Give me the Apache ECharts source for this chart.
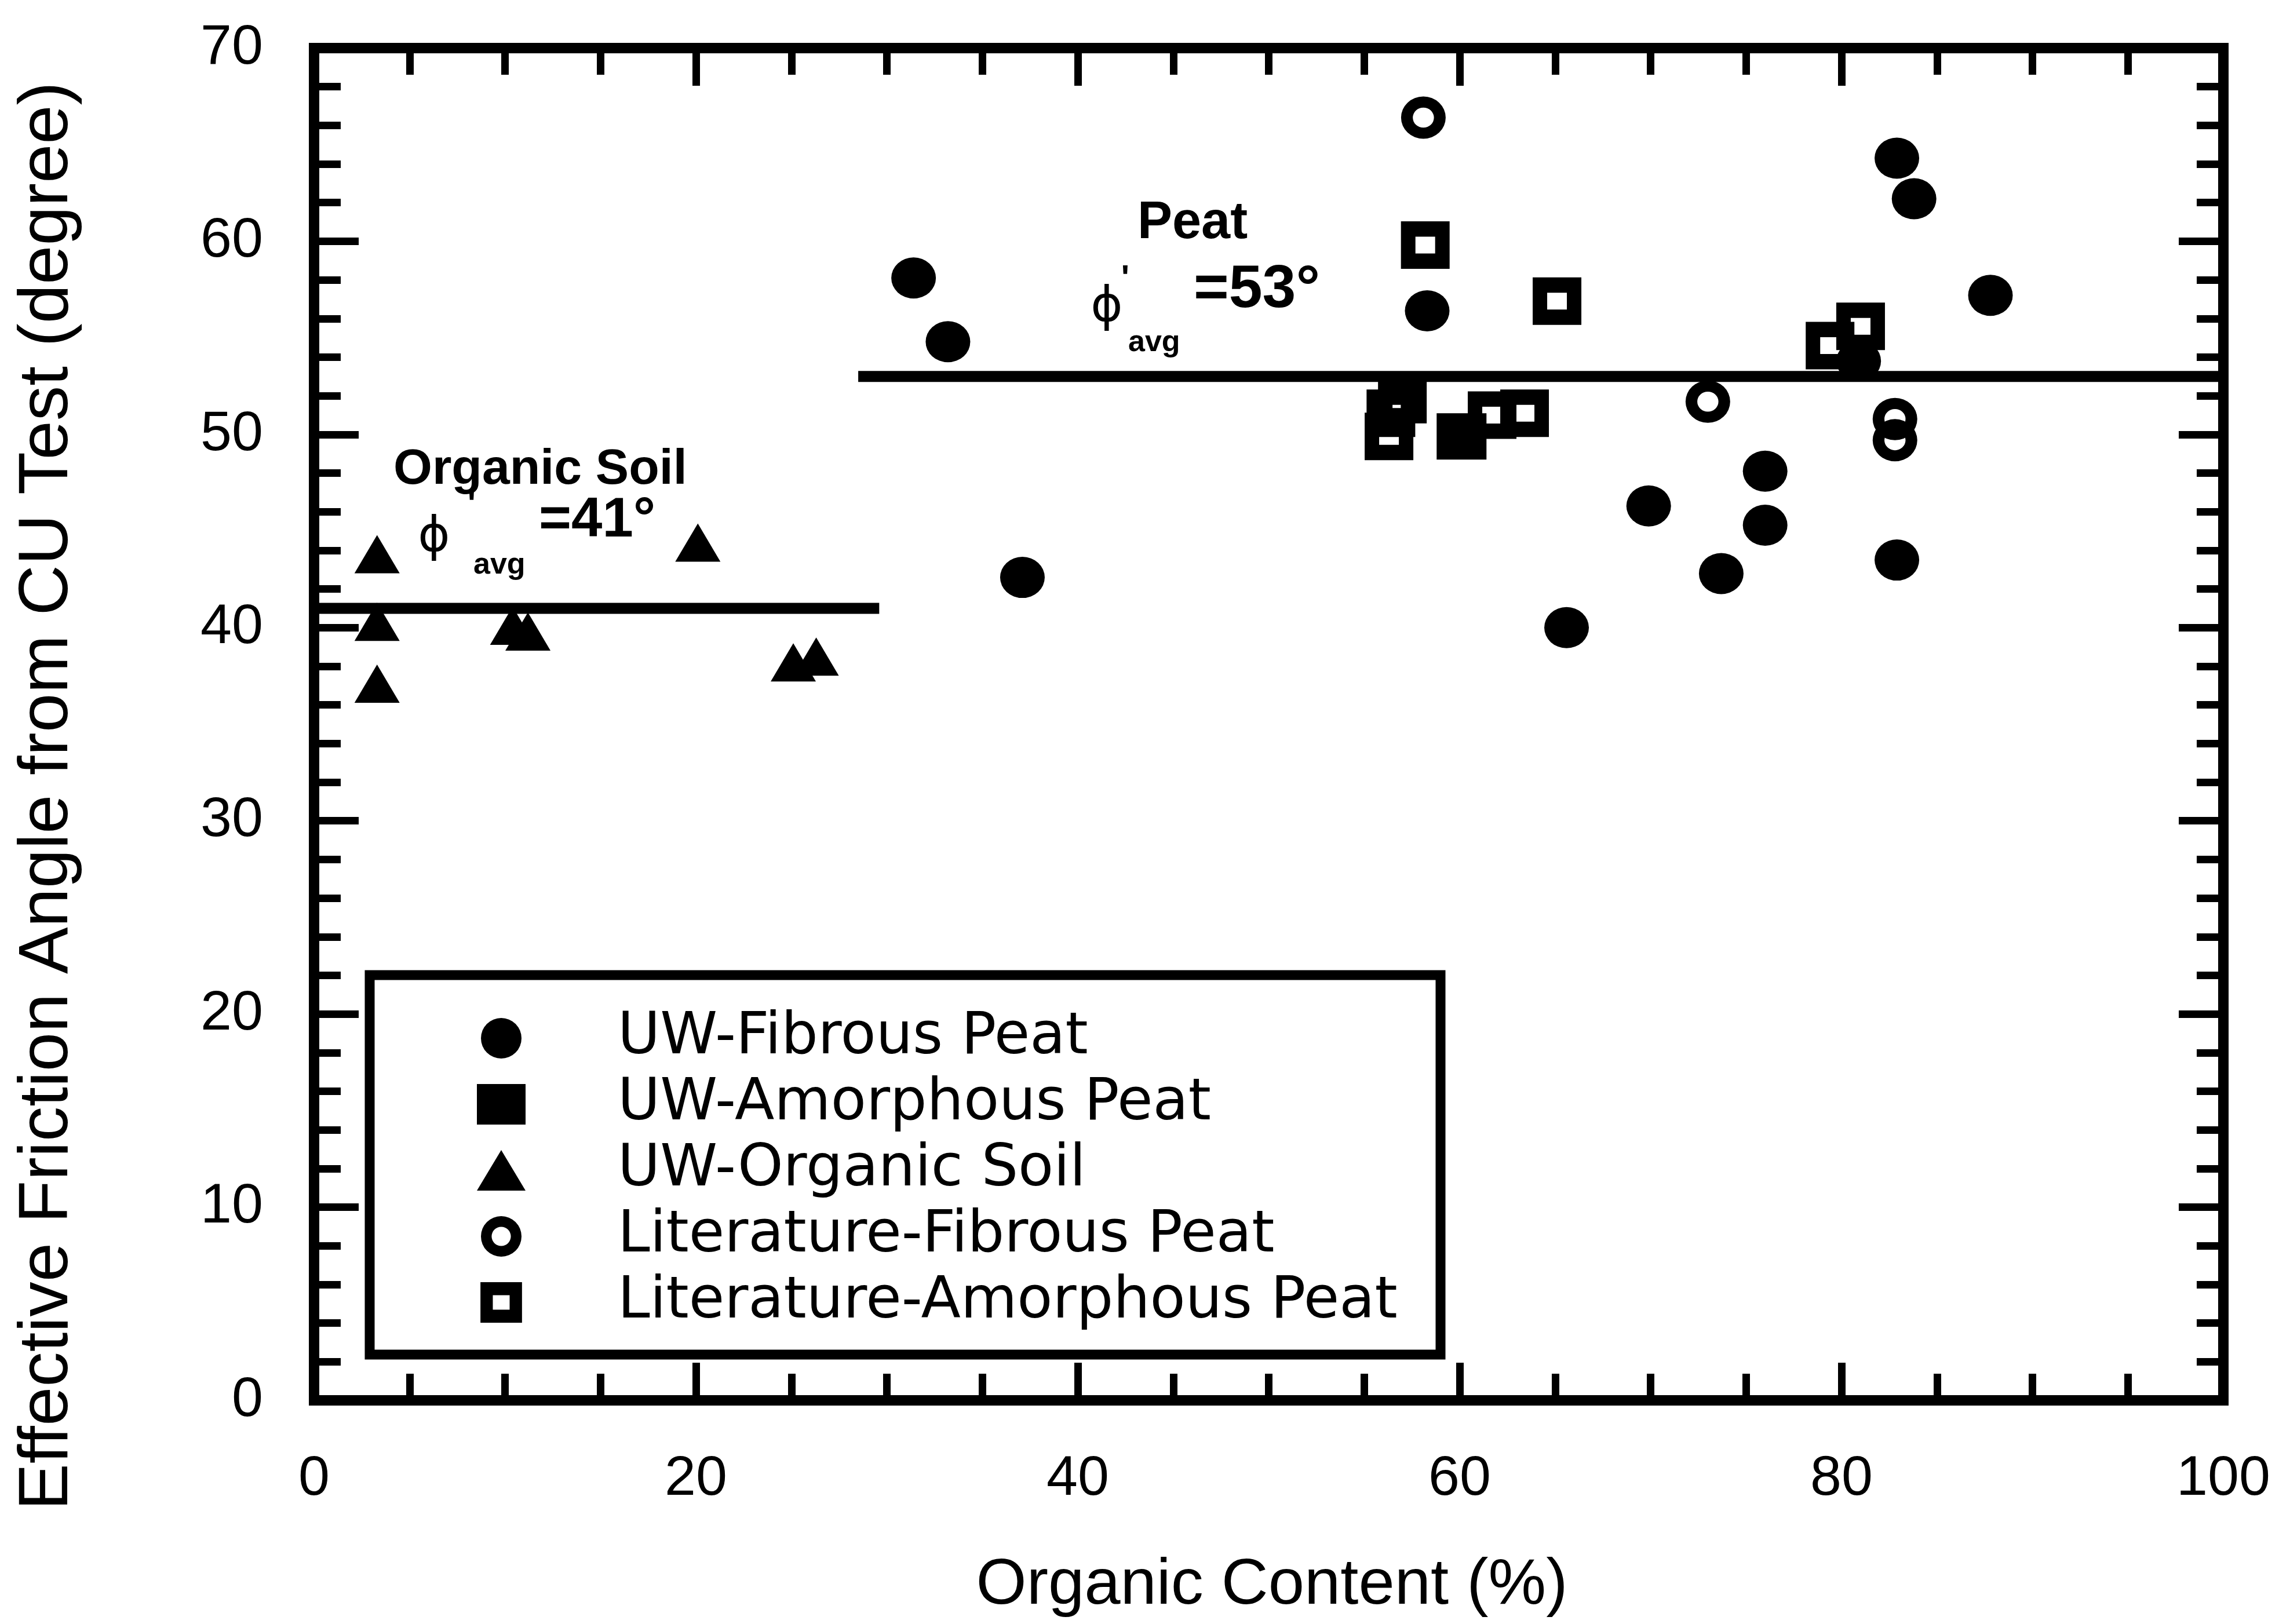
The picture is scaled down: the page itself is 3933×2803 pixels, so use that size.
<!DOCTYPE html>
<html>
<head>
<meta charset="utf-8">
<script src="https://cdn.jsdelivr.net/npm/echarts@6/dist/echarts.min.js"></script>
<style>
  html, body { margin: 0; padding: 0; background: #fff; }
  #chart { width: 3933px; height: 2803px; }
</style>
</head>
<body>
<div id="chart"></div>
<script>
// Effective friction angle from CU tests plotted against organic content.
// Each point is [organic content (%), friction angle (degree)].
const uwFibrousPeat = [
  [31.4, 58.1], [33.2, 54.8], [37.1, 42.6], [58.3, 56.4], [65.6, 40.0],
  [69.9, 46.3], [73.7, 42.8], [76.0, 48.1], [76.0, 45.3], [80.9, 53.8],
  [82.9, 43.5], [82.9, 64.3], [83.8, 62.2], [87.8, 57.2]
];
const uwAmorphousPeat = [[60.1, 49.9]];
const uwOrganicSoil = [
  [3.3, 43.8], [3.3, 40.3], [3.3, 37.1], [10.4, 40.1], [11.2, 39.8],
  [20.1, 44.4], [25.1, 38.2], [26.3, 38.5]
];
const literatureFibrousPeat = [[58.1, 66.4], [73.0, 51.7], [82.8, 50.8], [82.8, 49.7]];
const literatureAmorphousPeat = [
  [58.2, 59.8], [65.1, 56.9], [56.3, 49.9], [56.4, 51.1], [57.0, 51.8],
  [61.7, 51.0], [63.4, 51.1], [79.4, 54.6], [81.0, 55.6]
];

// Average friction angles and the organic-content ranges they cover
const organicSoilAvg = 41;
const organicSoilSpan = [0, 29.6];
const peatAvg = 53;
const peatSpan = [28.5, 100];

// Axis ranges and label steps
const xRange = [0, 100];
const xStep = 20;
const yRange = [0, 70];
const yStep = 10;

const seriesNames = [
  'UW-Fibrous Peat',
  'UW-Amorphous Peat',
  'UW-Organic Soil',
  'Literature-Fibrous Peat',
  'Literature-Amorphous Peat'
];

// Hollow marker outlines (outer shape with the hole cut out)
const ringSymbol = 'path://M0,-38A38,38,0,1,1,0,38A38,38,0,1,1,0,-38ZM0,-18A18,18,0,1,0,0,18A18,18,0,1,0,0,-18Z';
const openSquareSymbol = 'path://M-42,-41H42V41H-42ZM-17,-14.5V14.5H17V-14.5Z';

const INK = '#000';
const tickFont = 'Liberation Sans';

function frameAxis(position, isX, showLabels) {
  const range = isX ? xRange : yRange;
  return {
    type: 'value',
    position: position,
    min: range[0],
    max: range[1],
    interval: isX ? xStep : yStep,
    axisLine: { show: true, onZero: false, lineStyle: { color: INK, width: 18, cap: 'square' } },
    axisTick: { show: true, inside: true, length: isX ? 65 : 77, lineStyle: { color: INK, width: 13 } },
    minorTick: { show: true, splitNumber: isX ? 4 : 5, length: 46, lineStyle: { color: INK, width: 13 } },
    splitLine: { show: false },
    minorSplitLine: { show: false },
    axisLabel: {
      show: showLabels,
      color: INK,
      fontFamily: tickFont,
      fontSize: 97,
      margin: 88
    }
  };
}

function avgLine(span, value) {
  return {
    type: 'line',
    data: [[span[0], value], [span[1], value]],
    symbol: 'none',
    silent: true,
    lineStyle: { color: INK, width: 19 },
    z: 1
  };
}

const chart = echarts.init(document.getElementById('chart'), null, { renderer: 'canvas' });

const boldFont = (size) => 'bold ' + size + 'px "Liberation Sans"';
const phiFont = '84px "DejaVu Sans"';

chart.setOption({
  animation: false,
  backgroundColor: '#fff',
  grid: { left: 542, right: 96, top: 83, bottom: 386, containLabel: false },
  xAxis: [frameAxis('bottom', true, true), frameAxis('top', true, false)],
  yAxis: [frameAxis('left', false, true), frameAxis('right', false, false)],
  legend: {
    data: seriesNames,
    orient: 'vertical',
    left: 823,
    top: 1742,
    padding: 0,
    itemWidth: 84,
    itemHeight: 70,
    itemGap: 14,
    selectedMode: false,
    textStyle: {
      color: INK,
      fontFamily: 'DejaVu Sans',
      fontSize: 100,
      lineHeight: 96,
      padding: [0, 0, 0, 154]
    }
  },
  series: [
    avgLine(organicSoilSpan, organicSoilAvg),
    avgLine(peatSpan, peatAvg),
    {
      name: seriesNames[0], type: 'scatter', data: uwFibrousPeat,
      symbol: 'circle', symbolSize: [77, 71],
      itemStyle: { color: INK, opacity: 1 }
    },
    {
      name: seriesNames[1], type: 'scatter', data: uwAmorphousPeat,
      symbol: 'rect', symbolSize: [86, 80],
      itemStyle: { color: INK, opacity: 1 }
    },
    {
      name: seriesNames[2], type: 'scatter', data: uwOrganicSoil,
      symbol: 'triangle', symbolSize: [78, 66],
      itemStyle: { color: INK, opacity: 1 }
    },
    {
      name: seriesNames[3], type: 'scatter', data: literatureFibrousPeat,
      symbol: ringSymbol, symbolSize: [77, 73],
      itemStyle: { color: INK, opacity: 1 }
    },
    {
      name: seriesNames[4], type: 'scatter', data: literatureAmorphousPeat,
      symbol: openSquareSymbol, symbolSize: [84, 82],
      itemStyle: { color: INK, opacity: 1 }
    }
  ],
  graphic: [
    // legend frame
    {
      type: 'rect', silent: true, z: 0,
      shape: { x: 638, y: 1683, width: 1848, height: 655 },
      style: { fill: '#fff', stroke: INK, lineWidth: 17 }
    },
    // axis titles
    {
      type: 'text', x: 83, y: 1374, rotation: Math.PI / 2,
      style: { text: 'Effective Friction Angle from CU Test (degree)', font: '121px "Liberation Sans"', fill: INK, align: 'center', verticalAlign: 'middle' }
    },
    {
      type: 'text', x: 2195, y: 2737,
      style: { text: 'Organic Content (%)', font: '112px "Liberation Sans"', fill: INK, align: 'center', verticalAlign: 'middle' }
    },
    // organic soil average annotation
    { type: 'text', x: 679, y: 811, style: { text: 'Organic Soil', font: boldFont(86), fill: INK, align: 'left', verticalAlign: 'middle' } },
    { type: 'text', x: 749, y: 929, style: { text: 'ϕ', font: phiFont, fill: INK, align: 'center', verticalAlign: 'middle' } },
    { type: 'text', x: 814, y: 872, style: { text: "'", font: boldFont(60), fill: INK, align: 'center', verticalAlign: 'middle' } },
    { type: 'text', x: 817, y: 976, style: { text: 'avg', font: boldFont(52), fill: INK, align: 'left', verticalAlign: 'middle' } },
    { type: 'text', x: 930, y: 900, style: { text: '=' + organicSoilAvg + '°', font: boldFont(96), fill: INK, align: 'left', verticalAlign: 'middle' } },
    // peat average annotation
    { type: 'text', x: 1963, y: 386, style: { text: 'Peat', font: boldFont(90), fill: INK, align: 'left', verticalAlign: 'middle' } },
    { type: 'text', x: 1910, y: 532, style: { text: 'ϕ', font: phiFont, fill: INK, align: 'center', verticalAlign: 'middle' } },
    { type: 'text', x: 1942, y: 482, style: { text: "'", font: boldFont(60), fill: INK, align: 'center', verticalAlign: 'middle' } },
    { type: 'text', x: 1947, y: 592, style: { text: 'avg', font: boldFont(52), fill: INK, align: 'left', verticalAlign: 'middle' } },
    { type: 'text', x: 2060, y: 501, style: { text: '=' + peatAvg + '°', font: boldFont(104), fill: INK, align: 'left', verticalAlign: 'middle' } }
  ]
});
</script>
</body>
</html>
